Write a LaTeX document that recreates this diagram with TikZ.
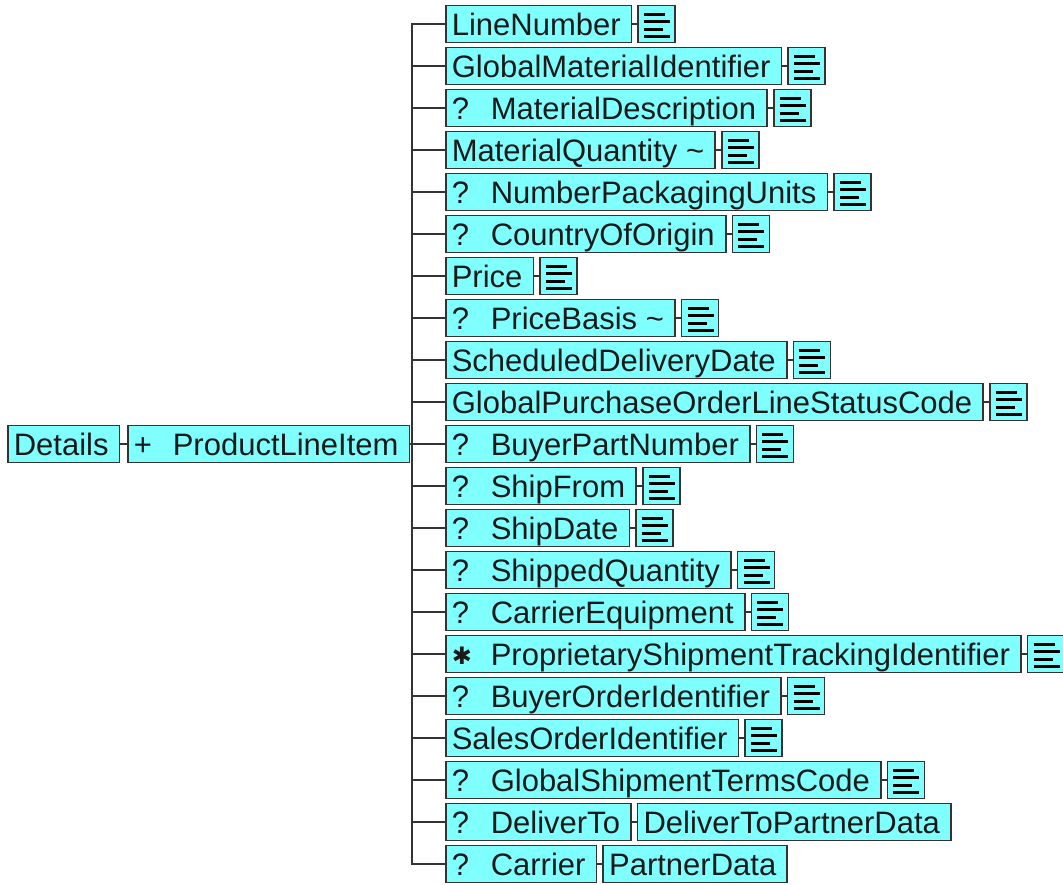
\documentclass[tikz,border=0pt]{standalone}
\usepackage{fontspec}
\setmainfont{Liberation Sans}
\newfontfamily\symfont{DejaVu Sans}
\usetikzlibrary{positioning}
\definecolor{elemfill}{HTML}{80FFFF}
\definecolor{elemline}{HTML}{333333}
\definecolor{elemtext}{HTML}{1A1A1A}
\newcommand{\cardmark}[1]{\makebox[39pt][l]{#1}}
\newcommand{\manymark}{\raisebox{1pt}{\symfont\fontsize{24}{24}\selectfont ✱}}

\begin{document}
\begin{tikzpicture}[
    x=1pt, y=-1pt,
    % Estilos de los elementos
    elem/.style={
        draw=elemline, fill=elemfill, line width=1.6pt,
        minimum height=37pt, inner xsep=6pt, inner ysep=0pt,
        text height=22pt, text depth=0pt, text=elemtext,
        font=\fontsize{31}{31}\selectfont, anchor=west,
        execute at end node=\hspace{5pt}
    },
    icon/.style={
        draw=elemline, fill=elemfill, line width=1.6pt,
        minimum width=37pt, minimum height=37pt, inner sep=0pt,
        path picture={
            \foreach \dy/\len in {10/21, 2.5/26, -5/19, -12.5/26}
                \draw[line width=3pt, black]
                    ([xshift=-12.5pt, yshift=\dy pt]path picture bounding box.center)
                    -- ++(\len pt, 0pt);
        }
    },
    % Estilo de las lineas
    link/.style={line width=2pt, color=elemline},
    stub/.style={line width=1.5pt, color=elemline}
]
    \useasboundingbox (0,0) rectangle (1063,884);

    % 1. Raiz
    \node[elem] (det) at (7, 444)  {Details};
    \node[elem] (pli) at (127, 444) {\cardmark{+}ProductLineItem};

    % 2. Hijos de ProductLineItem
    \node[elem] (ln)    at (445, 24)  {LineNumber};
    \node[elem] (gmi)   at (445, 66)  {GlobalMaterialIdentifier};
    \node[elem] (md)    at (445, 108) {\cardmark{?}MaterialDescription};
    \node[elem] (mq)    at (445, 150) {MaterialQuantity \textasciitilde};
    \node[elem] (npu)   at (445, 192) {\cardmark{?}NumberPackagingUnits};
    \node[elem] (coo)   at (445, 234) {\cardmark{?}CountryOfOrigin};
    \node[elem] (price) at (445, 276) {Price};
    \node[elem] (pb)    at (445, 318) {\cardmark{?}PriceBasis \textasciitilde};
    \node[elem] (sdd)   at (445, 360) {ScheduledDeliveryDate};
    \node[elem] (gpols) at (445, 402) {GlobalPurchaseOrderLineStatusCode};
    \node[elem] (bpn)   at (445, 444) {\cardmark{?}BuyerPartNumber};
    \node[elem] (sf)    at (445, 486) {\cardmark{?}ShipFrom};
    \node[elem] (sd)    at (445, 528) {\cardmark{?}ShipDate};
    \node[elem] (sq)    at (445, 570) {\cardmark{?}ShippedQuantity};
    \node[elem] (ce)    at (445, 612) {\cardmark{?}CarrierEquipment};
    \node[elem] (psti)  at (445, 654) {\cardmark{\manymark}ProprietaryShipmentTrackingIdentifier};
    \node[elem] (boi)   at (445, 696) {\cardmark{?}BuyerOrderIdentifier};
    \node[elem] (soi)   at (445, 738) {SalesOrderIdentifier};
    \node[elem] (gstc)  at (445, 780) {\cardmark{?}GlobalShipmentTermsCode};
    \node[elem] (dt)    at (445, 822) {\cardmark{?}DeliverTo};
    \node[elem] (car)   at (445, 864) {\cardmark{?}Carrier};

    % 3. Tipos complejos
    \node[elem, right=5pt of dt]  (dtpd) {DeliverToPartnerData};
    \node[elem, right=5pt of car] (pd)   {PartnerData};

    % 4. Iconos de contenido simple
    \foreach \n in {ln, gmi, md, mq, npu, coo, price, pb, sdd, gpols,
                    bpn, sf, sd, sq, ce, psti, boi, soi, gstc} {
        \node[icon, right=5pt of \n] (\n-ico) {};
        \draw[stub] (\n.east) -- (\n-ico.west);
    }
    \draw[stub] (det.east) -- (pli.west);
    \draw[stub] (dt.east) -- (dtpd.west);
    \draw[stub] (car.east) -- (pd.west);

    % 5. Conectores (ProductLineItem -> hijos)
    \coordinate (trunk) at (412, 444);
    \draw[link] (pli.east) -- (trunk);
    \foreach \n in {ln, gmi, md, mq, npu, coo, price, pb, sdd, gpols, bpn,
                    sf, sd, sq, ce, psti, boi, soi, gstc, dt, car}
        \draw[link] (trunk) |- (\n.west);

\end{tikzpicture}
\end{document}
